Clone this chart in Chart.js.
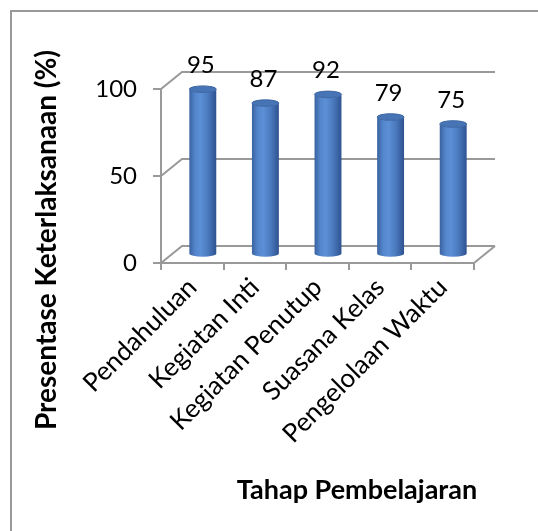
<!DOCTYPE html>
<html>
  <head>
    <script src="https://cdn.jsdelivr.net/npm/chart.js@4.4.0/dist/chart.umd.min.js"></script>
    <style>
      body {
        margin: 0;
        background: #fff;
      }
      canvas {
        display: block;
      }
    </style>
  </head>
  <body>
    <canvas id="myChart" width="538" height="531"></canvas>
    <script>
      // data
      var categories = ["Pendahuluan", "Kegiatan Inti", "Kegiatan Penutup", "Suasana Kelas", "Pengelolaan Waktu"];
      var values = [95, 87, 92, 79, 75];
      var yTicks = [0, 50, 100];
      var yTitle = "Presentase Keterlaksanaan (%)";
      var xTitle = "Tahap Pembelajaran";

      // depth of the 3D box (back wall offset from the front axes)
      var depthX = 21;
      var depthY = 17;
      var lineGray = "#999999";
      var fontName = "Lato, 'Open Sans', sans-serif";

      var box3d = {
        id: "box3d",
        beforeDraw: function (chart) {
          var ctx = chart.ctx;
          ctx.save();
          // outer frame (only top and left edges are visible)
          ctx.strokeStyle = lineGray;
          ctx.lineWidth = 2;
          ctx.beginPath();
          ctx.moveTo(11, 531);
          ctx.lineTo(11, 11);
          ctx.lineTo(538, 11);
          ctx.stroke();
          ctx.restore();
        },
        beforeDatasetsDraw: function (chart) {
          var ctx = chart.ctx;
          var area = chart.chartArea;
          var y = chart.scales.y;
          ctx.save();
          ctx.strokeStyle = lineGray;
          ctx.lineWidth = 2;
          // back wall gridlines with the left wall diagonals
          yTicks.forEach(function (v) {
            var py = y.getPixelForValue(v);
            ctx.beginPath();
            ctx.moveTo(area.left, py);
            ctx.lineTo(area.left + depthX, py - depthY);
            ctx.lineTo(area.right + depthX, py - depthY);
            ctx.stroke();
          });
          // floor right edge
          var p0 = y.getPixelForValue(0);
          ctx.beginPath();
          ctx.moveTo(area.right, p0);
          ctx.lineTo(area.right + depthX, p0 - depthY);
          ctx.stroke();
          ctx.restore();
        },
        afterDatasetsDraw: function (chart) {
          var ctx = chart.ctx;
          var meta = chart.getDatasetMeta(0);
          ctx.save();
          meta.data.forEach(function (bar, i) {
            var cx = bar.x + depthX / 2;
            var top = bar.y - depthY / 2;
            var bottom = bar.base - depthY / 2;
            var rx = bar.width / 2;
            var ry = 3.3;

            var grad = ctx.createLinearGradient(cx - rx, 0, cx + rx, 0);
            grad.addColorStop(0, "#3a62a0");
            grad.addColorStop(0.22, "#5486cc");
            grad.addColorStop(0.42, "#5c8fd6");
            grad.addColorStop(0.7, "#4a79bd");
            grad.addColorStop(1, "#2e5290");

            // cylinder body
            ctx.beginPath();
            ctx.moveTo(cx - rx, top);
            ctx.lineTo(cx - rx, bottom);
            ctx.ellipse(cx, bottom, rx, ry, 0, Math.PI, 0, true);
            ctx.lineTo(cx + rx, top);
            ctx.ellipse(cx, top, rx, ry, 0, 0, Math.PI, false);
            ctx.closePath();
            ctx.fillStyle = grad;
            ctx.fill();

            // top cap
            ctx.beginPath();
            ctx.ellipse(cx, top, rx, ry, 0, 0, Math.PI * 2);
            ctx.fillStyle = "#4674b4";
            ctx.fill();
            ctx.strokeStyle = "#3b64a2";
            ctx.lineWidth = 1;
            ctx.stroke();

            // value label
            ctx.fillStyle = "#000";
            ctx.font = "24px " + fontName;
            ctx.textAlign = "center";
            ctx.textBaseline = "middle";
            ctx.fillText(values[i], cx - 2, top - 24);
          });
          ctx.restore();
        },
        afterDraw: function (chart) {
          var ctx = chart.ctx;
          ctx.save();
          ctx.fillStyle = "#000";
          ctx.font = "bold 27px " + fontName;
          ctx.textAlign = "center";
          ctx.textBaseline = "middle";
          ctx.fillText(xTitle, 357, 490);
          ctx.font = "bold 28px " + fontName;
          ctx.translate(47, 240);
          ctx.rotate(-Math.PI / 2);
          ctx.fillText(yTitle, 0, 0);
          ctx.restore();
        },
      };

      var ctx = document.getElementById("myChart").getContext("2d");
      var chart = new Chart(ctx, {
        type: "bar",
        data: {
          labels: categories,
          datasets: [
            {
              data: values,
              backgroundColor: "transparent",
              borderWidth: 0,
              categoryPercentage: 1,
              barPercentage: 0.43,
              clip: false,
            },
          ],
        },
        options: {
          responsive: false,
          animation: false,
          events: [],
          layout: {
            padding: { top: 89, right: 64, left: 0, bottom: 0 },
          },
          plugins: {
            legend: { display: false },
            tooltip: { enabled: false },
          },
          scales: {
            x: {
              offset: true,
              grid: {
                display: true,
                offset: true,
                drawOnChartArea: false,
                tickLength: 7,
                color: lineGray,
                lineWidth: 2,
              },
              border: { display: true, color: lineGray, width: 2 },
              ticks: {
                autoSkip: false,
                minRotation: 45,
                maxRotation: 45,
                padding: 2,
                color: "#000",
                font: { family: fontName, size: 26 },
              },
              afterFit: function (scale) {
                scale.height = 268;
              },
            },
            y: {
              min: 0,
              max: 100,
              ticks: {
                stepSize: 50,
                padding: 16,
                color: "#000",
                font: { family: fontName, size: 24 },
              },
              grid: {
                display: true,
                drawOnChartArea: false,
                tickLength: 8,
                color: lineGray,
                lineWidth: 2,
              },
              border: { display: true, color: lineGray, width: 2 },
              afterFit: function (scale) {
                scale.width = 161;
              },
            },
          },
        },
        plugins: [box3d],
      });
    </script>
  </body>
</html>
